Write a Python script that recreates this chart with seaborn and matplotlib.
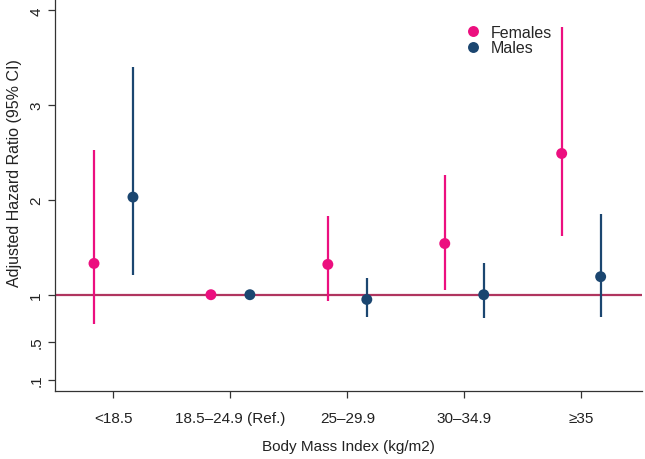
import matplotlib
matplotlib.use('Agg')
import matplotlib.pyplot as plt
import seaborn as sns
import pandas as pd
import numpy as np

# data
bmi_groups = ['<18.5', '18.5–24.9 (Ref.)', '25–29.9', '30–34.9', '≥35']
female_hr = [1.33, 1.00, 1.32, 1.54, 2.49]
female_lo = [0.69, np.nan, 0.93, 1.05, 1.62]
female_hi = [2.53, np.nan, 1.83, 2.26, 3.82]
male_hr = [2.03, 1.00, 0.95, 1.00, 1.19]
male_lo = [1.21, np.nan, 0.77, 0.75, 0.76]
male_hi = [3.40, np.nan, 1.18, 1.33, 1.85]
y_ticks = [0.1, 0.5, 1, 2, 3, 4]
y_ticklabels = ['.1', '.5', '1', '2', '3', '4']

colors = {'Females': '#ec0f7f', 'Males': '#1b4670'}
offsets = {'Females': -1 / 6, 'Males': 1 / 6}

df = pd.concat([
    pd.DataFrame({'group': bmi_groups, 'sex': 'Females', 'hr': female_hr,
                  'lo': female_lo, 'hi': female_hi}),
    pd.DataFrame({'group': bmi_groups, 'sex': 'Males', 'hr': male_hr,
                  'lo': male_lo, 'hi': male_hi}),
], ignore_index=True)
df['x'] = df['group'].map({g: i for i, g in enumerate(bmi_groups)}) + df['sex'].map(offsets)

sns.set_style('ticks')
plt.rcParams['font.family'] = ['Liberation Sans', 'DejaVu Sans']

fig = plt.figure(figsize=(6.45, 4.60), dpi=100)
ax = fig.add_axes([0.0853, 0.147, 0.91, 0.853])

ax.axhline(1, color='#b0355f', lw=1.6, zorder=1)
for sex, sub in df.groupby('sex'):
    ax.vlines(sub['x'], sub['lo'], sub['hi'], color=colors[sex], lw=1.6, zorder=2)
sns.scatterplot(data=df, x='x', y='hr', hue='sex', palette=colors, s=62,
                edgecolor='none', ax=ax, zorder=3)

ax.set_xlim(-0.5, 4.52)
ax.set_ylim(-0.02, 4.12)
ax.set_xticks(range(len(bmi_groups)))
ax.set_xticklabels(bmi_groups)
ax.set_yticks(y_ticks)
ax.set_yticklabels(y_ticklabels, rotation=90, va='center')
ax.tick_params(colors='#333333', labelcolor='#222222', labelsize=11, length=5, width=0.9)
ax.tick_params(axis='x', pad=9)
for s in ['left', 'bottom']:
    ax.spines[s].set_color('#333333')
    ax.spines[s].set_linewidth(0.9)
sns.despine(ax=ax)

ax.set_xlabel('Body Mass Index (kg/m2)', fontsize=11, color='#222222', labelpad=10)
ax.set_ylabel('Adjusted Hazard Ratio (95% CI)', fontsize=11.5, color='#222222')
ax.yaxis.set_label_coords(-0.057, 0.56)

ax.legend(title=None, frameon=False, loc='upper left', bbox_to_anchor=(0.671, 0.955),
          fontsize=11.5, handletextpad=0.1, labelspacing=0.05, borderpad=0, markerscale=1.0)

fig.savefig('out.png', dpi=100)
